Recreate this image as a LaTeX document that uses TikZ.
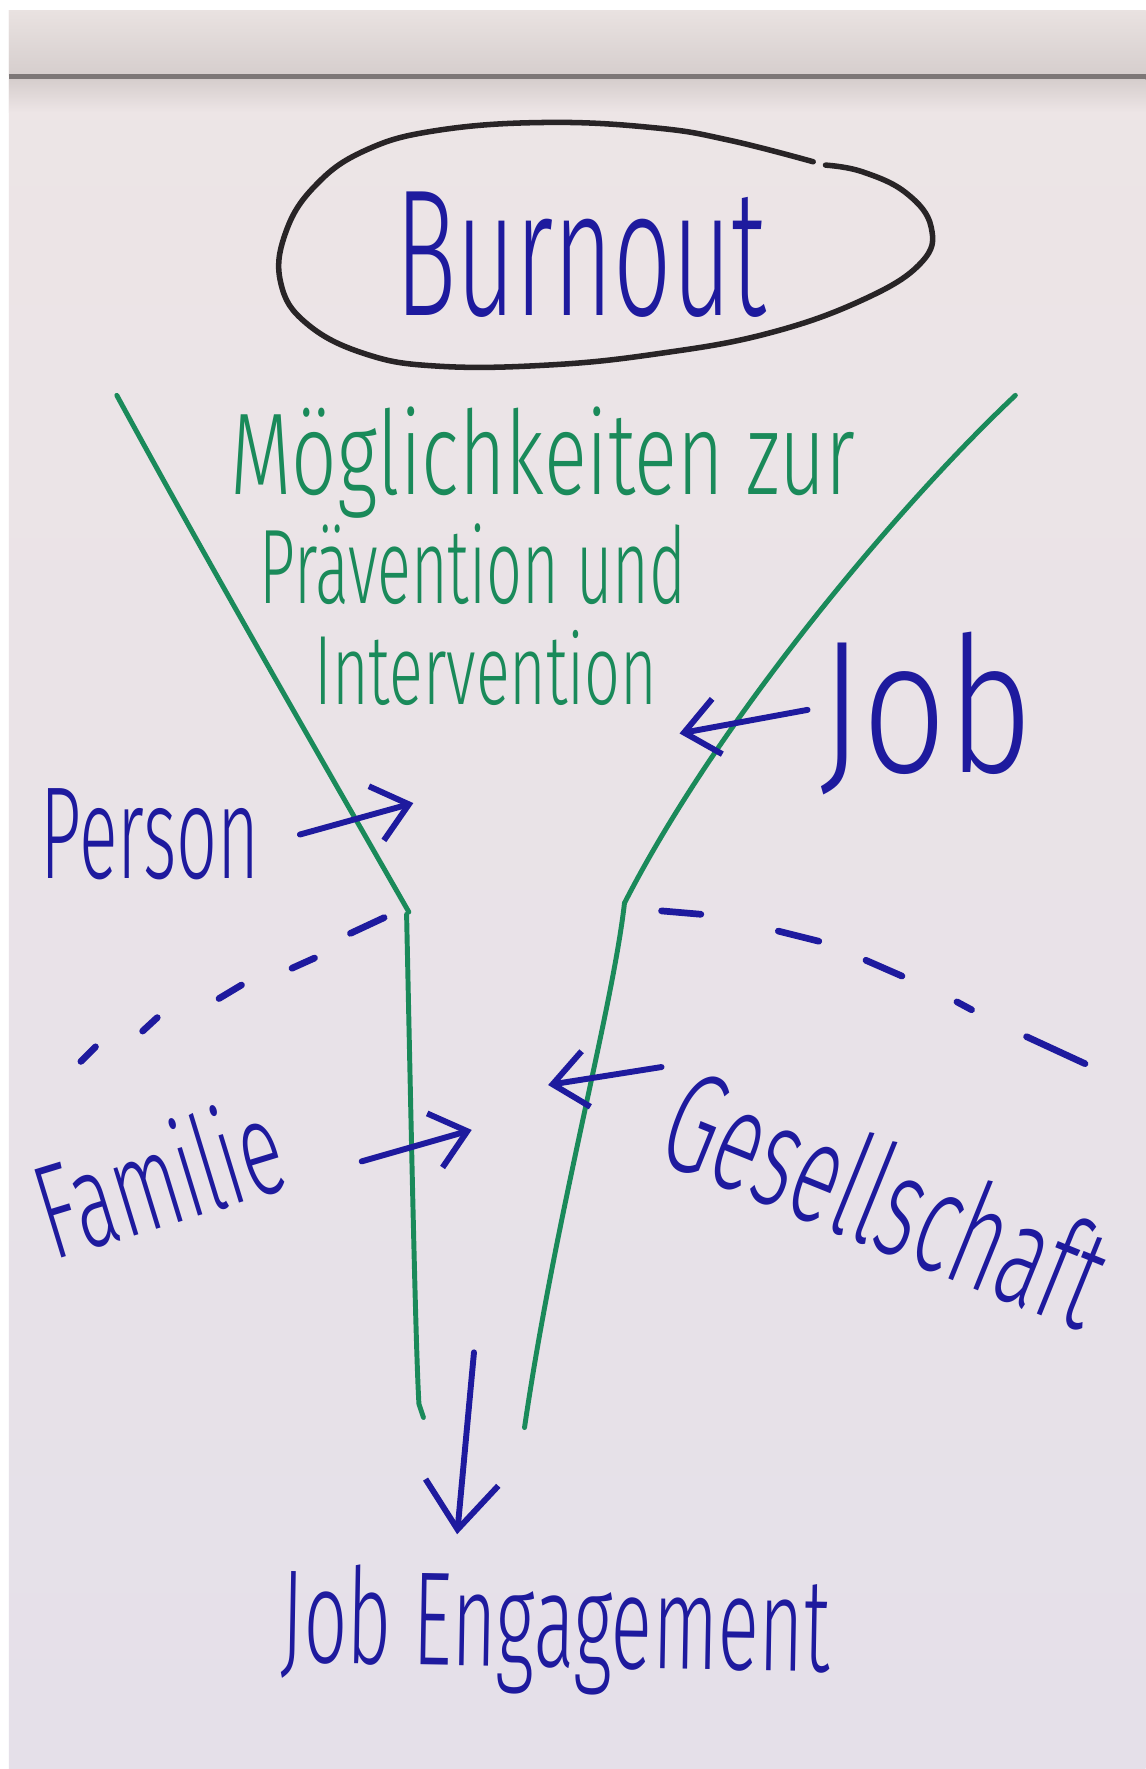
\documentclass[tikz,border=0pt]{standalone}
\usepackage{fontspec}
\setmainfont{Fira Sans}[UprightFont=* Light]
\usepackage{graphicx}
\usetikzlibrary{arrows.meta}
\definecolor{ink}{RGB}{30,26,158}
\definecolor{mgreen}{RGB}{26,138,90}
\definecolor{papertop}{RGB}{237,229,230}
\definecolor{paperbot}{RGB}{229,224,233}
\definecolor{rolltop}{RGB}{233,226,225}
\definecolor{rollbot}{RGB}{214,206,205}
\definecolor{rollline}{RGB}{125,119,119}
\definecolor{ovalc}{RGB}{40,36,38}
\newcommand{\hw}[3]{\resizebox{#1cm}{#2cm}{#3}}
\begin{document}
\begin{tikzpicture}[x=0.01cm,y=-0.01cm,
  lbl/.style={anchor=base west, inner sep=0pt, outer sep=0pt},
  bluetxt/.style={lbl, text=ink},
  greentxt/.style={lbl, text=mgreen},
  funnel/.style={draw=mgreen, line width=1.25pt, line cap=round, line join=round},
  inkarrow/.style={draw=ink, line width=1.5pt, line cap=round, -{Straight Barb[length=3mm,width=5mm]}},
  bigarrow/.style={inkarrow, -{Straight Barb[length=4.2mm,width=6.5mm]}},
  dashstroke/.style={draw=ink, line width=1.7pt, line cap=round},
  oval/.style={draw=ovalc, line width=1.4pt, line cap=round}]
\useasboundingbox (0,0) rectangle (1020,1575);
% background
\fill[white] (0,0) rectangle (1020,1575);
\shade[top color=papertop, bottom color=paperbot] (8,9) rectangle (1020,1575);
\shade[top color=rolltop, bottom color=rollbot] (8,9) rectangle (1020,67);
\fill[rollline] (8,66) rectangle (1020,71);
\shade[top color=rollbot, bottom color=papertop] (8,71) rectangle (1020,100);

% Burnout oval and title
\draw[oval] plot[smooth, tension=0.7] coordinates {(735,147) (768,153) (807,172) (829,202) (820,234) (768,267) (683,297) (585,315) (488,325) (390,326) (325,315) (273,288) (250,252) (254,208) (280,166) (325,134) (390,116) (488,109) (585,114) (650,125) (724,144)};
\node[bluetxt] (burnout) at (352,281) {\hw{3.30}{1.10}{Burnout}};

% funnel
\coordinate (lt) at (104,352);
\coordinate (lj) at (364,812);
\coordinate (lb) at (377,1262);
\coordinate (rt) at (904,352);
\coordinate (rj) at (556,804);
\coordinate (rb) at (467,1271);
\draw[funnel] (lt) .. controls (190,510) and (300,700) .. (lj);
\draw[funnel] (rt) .. controls (800,450) and (640,640) .. (rj);
\draw[funnel] (362,814) .. controls (366,1000) and (370,1200) .. (373,1250) -- (lb);
\draw[funnel] (rj) .. controls (545,900) and (495,1080) .. (rb);

% green texts
\node[greentxt] (l1) at (205,440) {\hw{5.56}{0.78}{Möglichkeiten zur}};
\node[greentxt] (l2) at (231,537) {\hw{3.80}{0.71}{Prävention und}};
\node[greentxt] (l3) at (280,627) {\hw{3.05}{0.66}{Intervention}};

% blue labels
\node[bluetxt] (job) at (730,688) {\hw{1.90}{1.25}{Job}};
\node[bluetxt] (person) at (36,782) {\hw{1.95}{0.80}{Person}};
\node[bluetxt, rotate=17] (familie) at (48,1122) {\hw{2.22}{0.90}{Familie}};
\node[bluetxt, rotate=-22] (gesell) at (582,1032) {\hw{4.10}{0.95}{Gesellschaft}};
\node[bluetxt, rotate=-1] (jobeng) at (250,1480) {\hw{4.88}{0.88}{Job Engagement}};

% arrows
\coordinate (jobA) at (719,632);   \coordinate (jobB) at (605,653);
\coordinate (perA) at (267,743);   \coordinate (perB) at (368,715);
\coordinate (gesA) at (589,950);   \coordinate (gesB) at (488,966);
\coordinate (famA) at (322,1034);  \coordinate (famB) at (420,1006);
\coordinate (engA) at (422,1204);  \coordinate (engB) at (407,1366);
\draw[inkarrow] (jobA) -- (jobB);
\draw[inkarrow] (perA) -- (perB);
\draw[inkarrow] (gesA) -- (gesB);
\draw[inkarrow] (famA) -- (famB);
\draw[bigarrow] (engA) -- (engB);

% dashed separators
\draw[dashstroke] (342,817) -- (312,831);
\draw[dashstroke] (280,853) -- (260,862);
\draw[dashstroke] (215,877) -- (195,889);
\draw[dashstroke] (140,906) -- (127,918);
\draw[dashstroke] (85,932) -- (72,945);
\draw[dashstroke] (589,811) -- (624,814);
\draw[dashstroke] (693,829) -- (729,838);
\draw[dashstroke] (771,855) -- (803,869);
\draw[dashstroke] (852,892) -- (865,899);
\draw[dashstroke] (914,923) -- (966,947);
\end{tikzpicture}
\end{document}
